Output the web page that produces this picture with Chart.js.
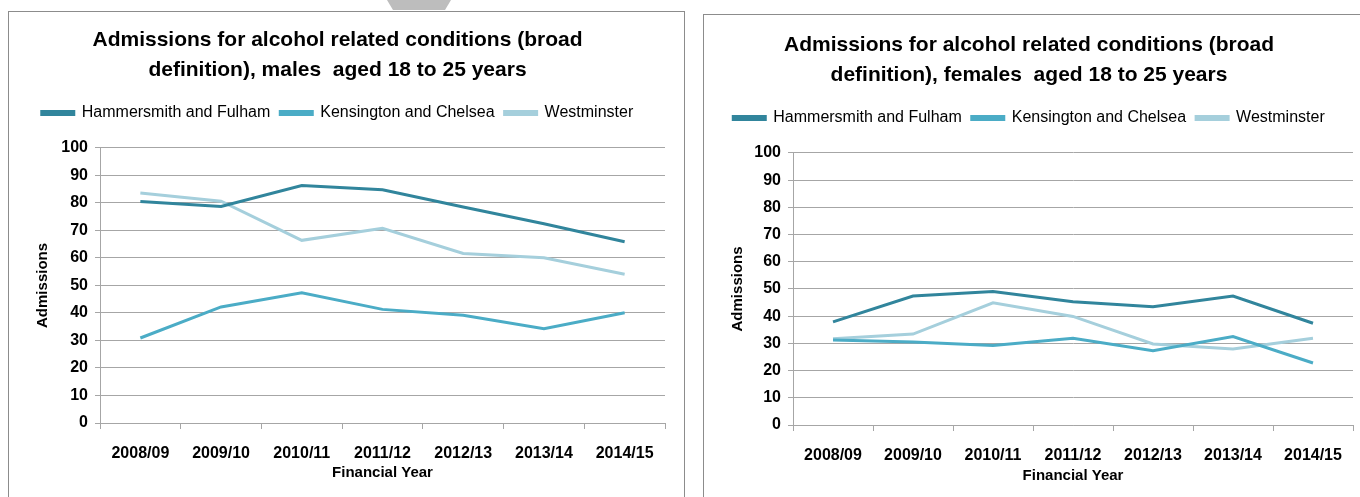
<!DOCTYPE html>
<html lang="en">
<head>
  <meta charset="UTF-8" />
  <title>Admissions for alcohol related conditions</title>
  <script src="https://cdn.jsdelivr.net/npm/chart.js"></script>
  <style>
    body {
      margin: 0;
      background: #ffffff;
      width: 1360px;
      height: 497px;
      overflow: hidden;
      position: relative;
      font-family: "Liberation Sans", Arial, sans-serif;
    }
    .panel {
      position: absolute;
      background: #fff;
      border: 1px solid #8c8c8c;
    }
    #leftPanel { left: 8px; top: 11px; width: 675px; height: 500px; }
    #rightPanel { left: 703px; top: 14px; width: 670px; height: 500px; }
    .panel canvas { position: absolute; }
    #tab {
      position: absolute;
      left: 387px;
      top: 0;
      height: 0;
      border-left: 6px solid transparent;
      border-right: 6px solid transparent;
      border-top: 10px solid #bdbdbd;
      width: 52px;
    }
  </style>
</head>
<body>

  <div class="panel" id="leftPanel">
    <canvas id="malesChart" width="672" height="486" style="left:1px;top:1px;"></canvas>
  </div>
  <div class="panel" id="rightPanel">
    <canvas id="femalesChart" width="656" height="482" style="left:1px;top:1px;"></canvas>
  </div>
  <div id="tab"></div>

  <script>
    // financial years on the x axis
    const years = ['2008/09', '2009/10', '2010/11', '2011/12', '2012/13', '2013/14', '2014/15'];
    const boroughs = ['Hammersmith and Fulham', 'Kensington and Chelsea', 'Westminster'];
    const boroughColors = ['#31859c', '#4bacc6', '#a5cfdc'];

    // males aged 18 to 25
    const malesHammersmith = [80.5, 78.7, 86.3, 84.8, 78.5, 72.4, 65.9];
    const malesKensington = [30.9, 42.2, 47.3, 41.3, 39.2, 34.3, 40.1];
    const malesWestminster = [83.6, 80.6, 66.4, 70.8, 61.6, 60.1, 54.1];

    // females aged 18 to 25
    const femalesHammersmith = [37.9, 47.4, 49.1, 45.3, 43.5, 47.4, 37.4];
    const femalesKensington = [31.2, 30.5, 29.2, 31.9, 27.3, 32.5, 22.8];
    const femalesWestminster = [31.7, 33.4, 44.9, 39.9, 29.8, 27.9, 31.9];

    const yTicks = [0, 10, 20, 30, 40, 50, 60, 70, 80, 90, 100];

    const fontFamily = '"Liberation Sans", Arial, sans-serif';
    const textColor = '#000000';
    const gridColor = '#a6a6a6';

    // adds some empty space under the legend, before the plot starts
    const legendGap = {
      id: 'legendGap',
      afterInit(chart, args, opts) {
        const legend = chart.legend;
        const fit = legend.fit;
        legend.fit = function () {
          fit.call(this);
          this.height += opts.extra;
        };
      }
    };

    function makeDatasets(seriesList) {
      return seriesList.map((values, i) => ({
        label: boroughs[i],
        data: values,
        borderColor: boroughColors[i],
        backgroundColor: boroughColors[i],
        borderWidth: 3,
        pointRadius: 0,
        tension: 0,
        fill: false
      }));
    }

    function makeChart(canvasId, titleLines, seriesList, cfg) {
      const canvas = document.getElementById(canvasId);
      const ctx = canvas.getContext('2d');
      return new Chart(ctx, {
        type: 'line',
        data: {
          labels: years,
          datasets: makeDatasets(seriesList)
        },
        plugins: [legendGap],
        options: {
          responsive: false,
          animation: false,
          layout: { padding: { left: 0, right: cfg.rightPad, top: 0, bottom: 0 } },
          plugins: {
            legendGap: { extra: 17 },
            title: {
              display: true,
              text: titleLines,
              color: textColor,
              font: { family: fontFamily, size: 21, weight: 'bold', lineHeight: 1.45 },
              padding: { top: cfg.titleTop, bottom: 9 }
            },
            legend: {
              display: true,
              position: 'top',
              labels: {
                color: textColor,
                font: { family: fontFamily, size: 16 },
                boxWidth: 32,
                boxHeight: 3,
                padding: 10
              }
            },
            tooltip: { enabled: false }
          },
          scales: {
            x: {
              offset: true,
              grid: {
                offset: true,
                drawOnChartArea: false,
                drawTicks: true,
                tickLength: 6,
                color: gridColor
              },
              border: { color: gridColor, width: 1 },
              ticks: {
                color: textColor,
                font: { family: fontFamily, size: 16, weight: 'bold' },
                padding: 15,
                maxRotation: 0
              },
              title: {
                display: true,
                text: 'Financial Year',
                color: textColor,
                font: { family: fontFamily, size: 15, weight: 'bold' },
                padding: { top: 0, bottom: cfg.xTitleBottom }
              },
              afterFit: (scale) => { scale.height = canvas.height - cfg.plotBottom; }
            },
            y: {
              min: 0,
              max: 100,
              afterBuildTicks: (scale) => { scale.ticks = yTicks.map(v => ({ value: v })); },
              grid: {
                color: gridColor,
                drawTicks: true,
                tickLength: 5
              },
              border: { color: gridColor, width: 1 },
              ticks: {
                color: textColor,
                font: { family: fontFamily, size: 16, weight: 'bold' },
                padding: 7
              },
              title: {
                display: true,
                text: 'Admissions',
                color: textColor,
                font: { family: fontFamily, size: 15, weight: 'bold' },
                padding: { top: 24, bottom: 0 }
              },
              afterFit: (scale) => { scale.width = cfg.plotLeft; }
            }
          }
        }
      });
    }

    makeChart('malesChart',
      ['Admissions for alcohol related conditions (broad', 'definition), males  aged 18 to 25 years'],
      [malesHammersmith, malesKensington, malesWestminster],
      { plotLeft: 90, plotBottom: 410, rightPad: 17, titleTop: 12, xTitleBottom: 17 });

    makeChart('femalesChart',
      ['Admissions for alcohol related conditions (broad', 'definition), females  aged 18 to 25 years'],
      [femalesHammersmith, femalesKensington, femalesWestminster],
      { plotLeft: 88, plotBottom: 409, rightPad: 8, titleTop: 14, xTitleBottom: 13 });
  </script>
</body>
</html>
